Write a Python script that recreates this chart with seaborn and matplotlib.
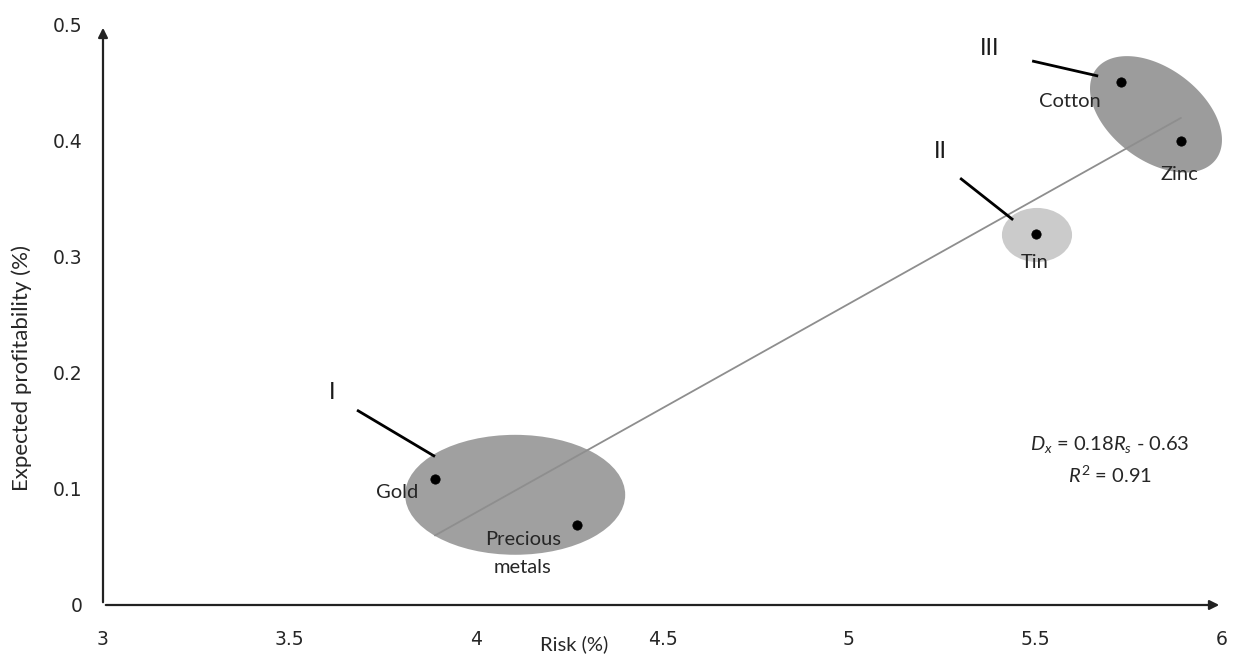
import numpy as np
import matplotlib
matplotlib.use("Agg")
import matplotlib.pyplot as plt
from matplotlib.patches import Ellipse, Polygon
import seaborn as sns

# data: risk (%) vs expected profitability (%)
names = ["Gold", "Precious\nmetals", "Tin", "Cotton", "Zinc"]
risk = [3.89, 4.27, 5.50, 5.73, 5.89]
profit = [0.109, 0.069, 0.320, 0.451, 0.400]

# where the name labels sit
name_x = [3.788, 4.126, 5.499, 5.592, 5.885]
name_y = [0.0966, 0.0444, 0.295, 0.434, 0.371]

# cluster labels and their callout lines
groups = ["I", "II", "III"]
group_x = [3.614, 5.244, 5.378]
group_y = [0.183, 0.391, 0.480]
callout_x = [(3.681, 3.890), (5.298, 5.440), (5.491, 5.668)]
callout_y = [(0.168, 0.128), (0.368, 0.332), (0.469, 0.456)]

sns.set_style("white")
plt.rcParams["font.family"] = ["DejaVu Sans"]
plt.rcParams["mathtext.fontset"] = "custom"
plt.rcParams["mathtext.rm"] = "Lato"
plt.rcParams["mathtext.it"] = "Lato:italic"

txt = "#262626"

fig = plt.figure(figsize=(12.37, 6.54), dpi=100)
ax = fig.add_axes([103 / 1237, 49 / 654, 1119 / 1237, 580 / 654])
ax.set_xlim(3, 6)
ax.set_ylim(0, 0.5)

# cluster ellipses
ax.add_patch(Ellipse((4.105, 0.095), 0.590, 0.1034, color="#a0a0a0", lw=0, zorder=1))
ax.add_patch(Ellipse((5.504, 0.319), 0.188, 0.0466, color="#cbcbcb", lw=0, zorder=1))

# tilted ellipse III, built in pixel space so the tilt looks right on screen
p0 = ax.transData.transform((0, 0))
p1 = ax.transData.transform((1, 1))
sx, sy = p1[0] - p0[0], p1[1] - p0[1]
t = np.linspace(0, 2 * np.pi, 200)
a, b, phi = 75, 46, np.deg2rad(-37)
u = a * np.cos(t) * np.cos(phi) - b * np.sin(t) * np.sin(phi)
v = a * np.cos(t) * np.sin(phi) + b * np.sin(t) * np.cos(phi)
ax.add_patch(Polygon(np.column_stack([5.823 + u / sx, 0.423 + v / sy]),
                     closed=True, color="#9c9c9c", lw=0, zorder=1))

sns.regplot(x=risk, y=profit, scatter=False, ci=None, ax=ax,
            line_kws=dict(color="#8e8e8e", lw=1.3, zorder=2))
sns.scatterplot(x=risk, y=profit, color="black", s=45, edgecolor="black",
                ax=ax, zorder=3, legend=False)

for n, x, y in zip(names, name_x, name_y):
    ax.text(x, y, n, ha="center", va="center", fontsize=14.5, family="Lato",
            color=txt, linespacing=1.8, zorder=4)

for g, x, y, cx, cy in zip(groups, group_x, group_y, callout_x, callout_y):
    ax.text(x, y, g, ha="center", va="center", fontsize=17, family="Lato",
            color="#1a1a1a")
    ax.plot(cx, cy, color="black", lw=2, solid_capstyle="butt", zorder=4)

ax.text(5.700, 0.138, r"$D_x$ = 0.18$R_s$ - 0.63", ha="center", va="center",
        fontsize=14.5, family="Lato", color=txt)
ax.text(5.700, 0.112, r"$R^2$ = 0.91", ha="center", va="center",
        fontsize=14.5, family="Lato", color=txt)

# axes drawn as arrows
for s in ax.spines.values():
    s.set_visible(False)
ax.annotate("", xy=(1, 0), xytext=(0, 0), xycoords="axes fraction",
            arrowprops=dict(arrowstyle="-|>", color="#222222", lw=1.6, mutation_scale=14))
ax.annotate("", xy=(0, 1), xytext=(0, 0), xycoords="axes fraction",
            arrowprops=dict(arrowstyle="-|>", color="#222222", lw=1.6, mutation_scale=14))

ax.set_xticks([3, 3.5, 4, 4.5, 5, 5.5, 6])
ax.set_xticklabels(["3", "3.5", "4", "4.5", "5", "5.5", "6"])
ax.set_yticks([0, 0.1, 0.2, 0.3, 0.4, 0.5])
ax.set_yticklabels(["0", "0.1", "0.2", "0.3", "0.4", "0.5"])
ax.tick_params(axis="x", length=0, pad=18, labelsize=13.5, labelcolor=txt)
ax.tick_params(axis="y", length=0, pad=15, labelsize=13.5, labelcolor=txt)
ax.grid(False)

fig.text(574 / 1237, 1 - 644 / 654, "Risk (%)", ha="center", va="center",
         fontsize=14.5, family="Lato", color=txt)
fig.text(22 / 1237, 1 - 368 / 654, "Expected profitability (%)", ha="center",
         va="center", rotation=90, fontsize=16, family="Lato", color=txt)

fig.savefig("out.png", dpi=100)
